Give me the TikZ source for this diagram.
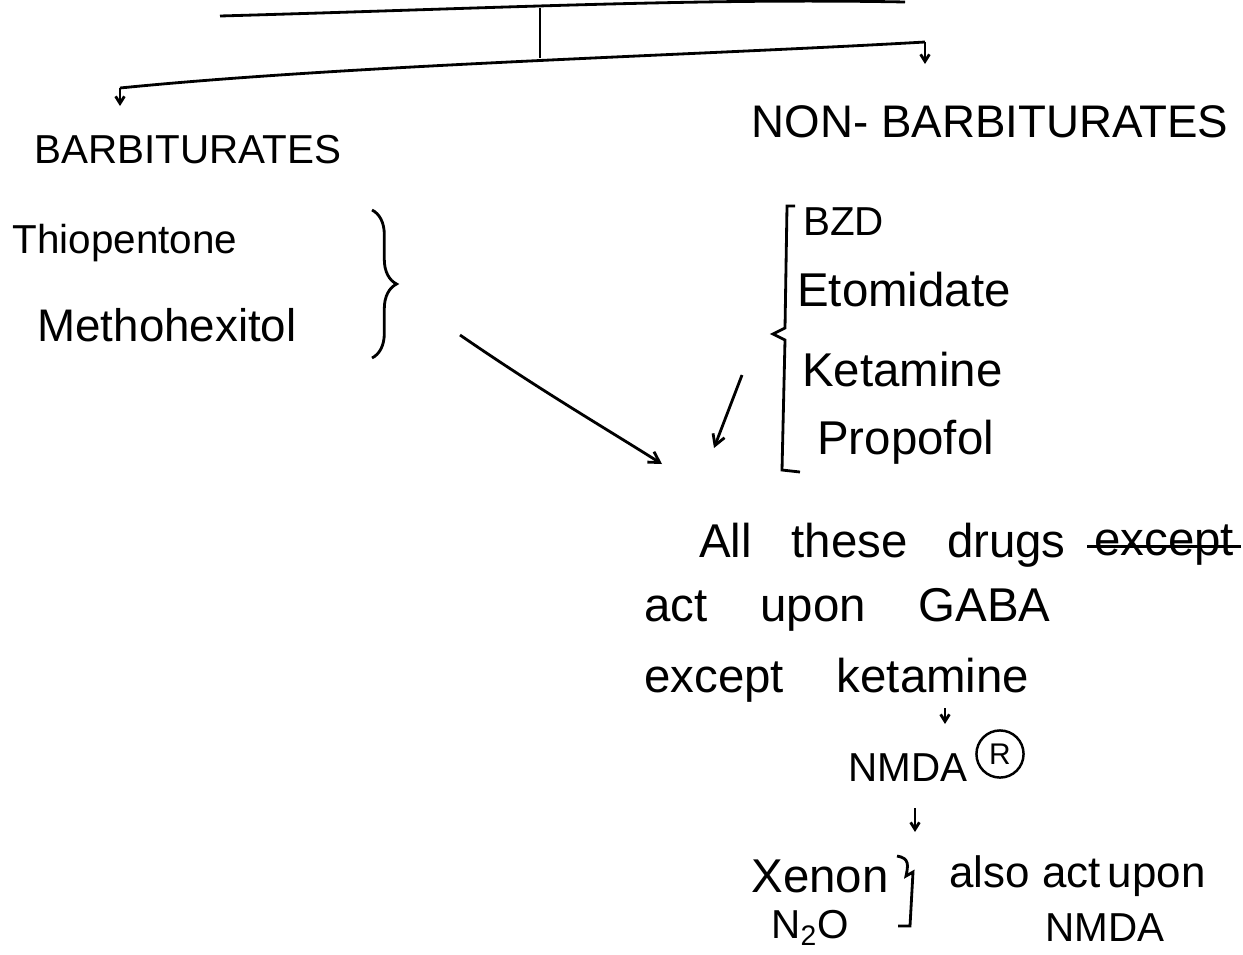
\documentclass[tikz,border=0pt]{standalone}
\usepackage{fontspec}
\setmainfont{Liberation Sans}
\usetikzlibrary{arrows.meta,decorations.pathreplacing}
\begin{document}
\begin{tikzpicture}[x=0.02cm,y=-0.02cm,
  line width=1.6pt,
  capsty/.style={font=\fontsize{23}{26}\selectfont},
  bigcap/.style={font=\fontsize{26}{30}\selectfont},
  hand/.style={font=\fontsize{23}{26}\selectfont},
  bighand/.style={font=\fontsize{27}{30}\selectfont},
  arr/.style={-{Straight Barb[length=6pt,width=7pt]}},
  tinyarr/.style={-{Straight Barb[length=4pt,width=5pt]}}]
\useasboundingbox (0,0) rectangle (1243,954);

% tree lines
\coordinate (tl) at (220,16);
\coordinate (tr) at (905,2);
\coordinate (vtop) at (540,8);
\coordinate (vbot) at (540,58);
\coordinate (bl) at (120,88);
\coordinate (br) at (925,42);
\coordinate (bla) at (120,106);
\coordinate (bra) at (925,64);
\draw (tl) .. controls (500,8) and (700,-2) .. (tr);
\draw (vtop) -- (vbot);
\draw (bl) .. controls (350,65) and (700,55) .. (br);
\draw[tinyarr] (bl) -- (bla);
\draw[tinyarr] (br) -- (bra);

\node[capsty] (barb) at (188,150) {BARBITURATES};
\node[bigcap] (nonbarb) at (990,122) {NON- BARBITURATES};

% barbiturates list
\node[hand] (thio) at (125,243) {Thiopentone};
\node[font=\fontsize{26}{30}\selectfont] (metho) at (167,325) {Methohexitol};
\draw[decorate,decoration={brace,amplitude=14pt}] (372,210) -- (372,358);
\coordinate (a1s) at (460,335);
\coordinate (a1e) at (662,464);
\draw[arr] (a1s) .. controls (540,390) and (600,425) .. (a1e);

% non-barbiturates list
\node[capsty,anchor=west] (bzd) at (796,222) {BZD};
\node[bighand,anchor=west] (etom) at (790,290) {Etomidate};
\node[bighand,anchor=west] (ket) at (795,370) {Ketamine};
\node[bighand,anchor=west] (prop) at (810,442) {Propofol};
\draw (795,206) -- (787,206) -- (785,328) -- (773,334) -- (785,340) -- (782,470) -- (800,472);
\coordinate (a2s) at (742,375);
\coordinate (a2e) at (714,448);
\draw[arr] (a2s) -- (a2e);

% GABA text
\node[bighand,anchor=west] (all) at (692,545) {All\ \ \ these\ \ \ drugs};
\node[bighand,anchor=west] (exc) at ([xshift=8pt]all.east) {except};
\draw ([yshift=-1pt]exc.west) -- ([yshift=-1pt]exc.east);
\node[bighand,anchor=west] (act) at (637,610) {act\ \ \ \ upon\ \ \ \ GABA};
\node[bighand,anchor=west] (exk) at (637,680) {except\ \ \ \ ketamine};
\node[capsty] (nmda1) at (908,768) {NMDA};
\node[draw,circle,inner sep=3.5pt,line width=1.4pt,font=\fontsize{17}{19}\selectfont] (rec) at (1000,754) {R};
\coordinate (ks) at (945,708);
\coordinate (ke) at (945,724);
\draw[tinyarr] (ks) -- (ke);
\coordinate (ns) at (915,808);
\coordinate (ne) at (915,832);
\draw[tinyarr] (ns) -- (ne);

% xenon
\node[bighand] (xenon) at (820,876) {Xenon};
\node[capsty] (n2o) at (810,928) {N\textsubscript{2}O};
\draw (897,856) .. controls (910,858) and (908,866) .. (906,876) -- (913,872) -- (910,926) -- (898,926);
\node[font=\fontsize{25}{28}\selectfont,anchor=west] (also) at (942,876) {also\ act\,upon};
\node[capsty] (nmda2) at (1105,928) {NMDA};
\end{tikzpicture}
\end{document}
